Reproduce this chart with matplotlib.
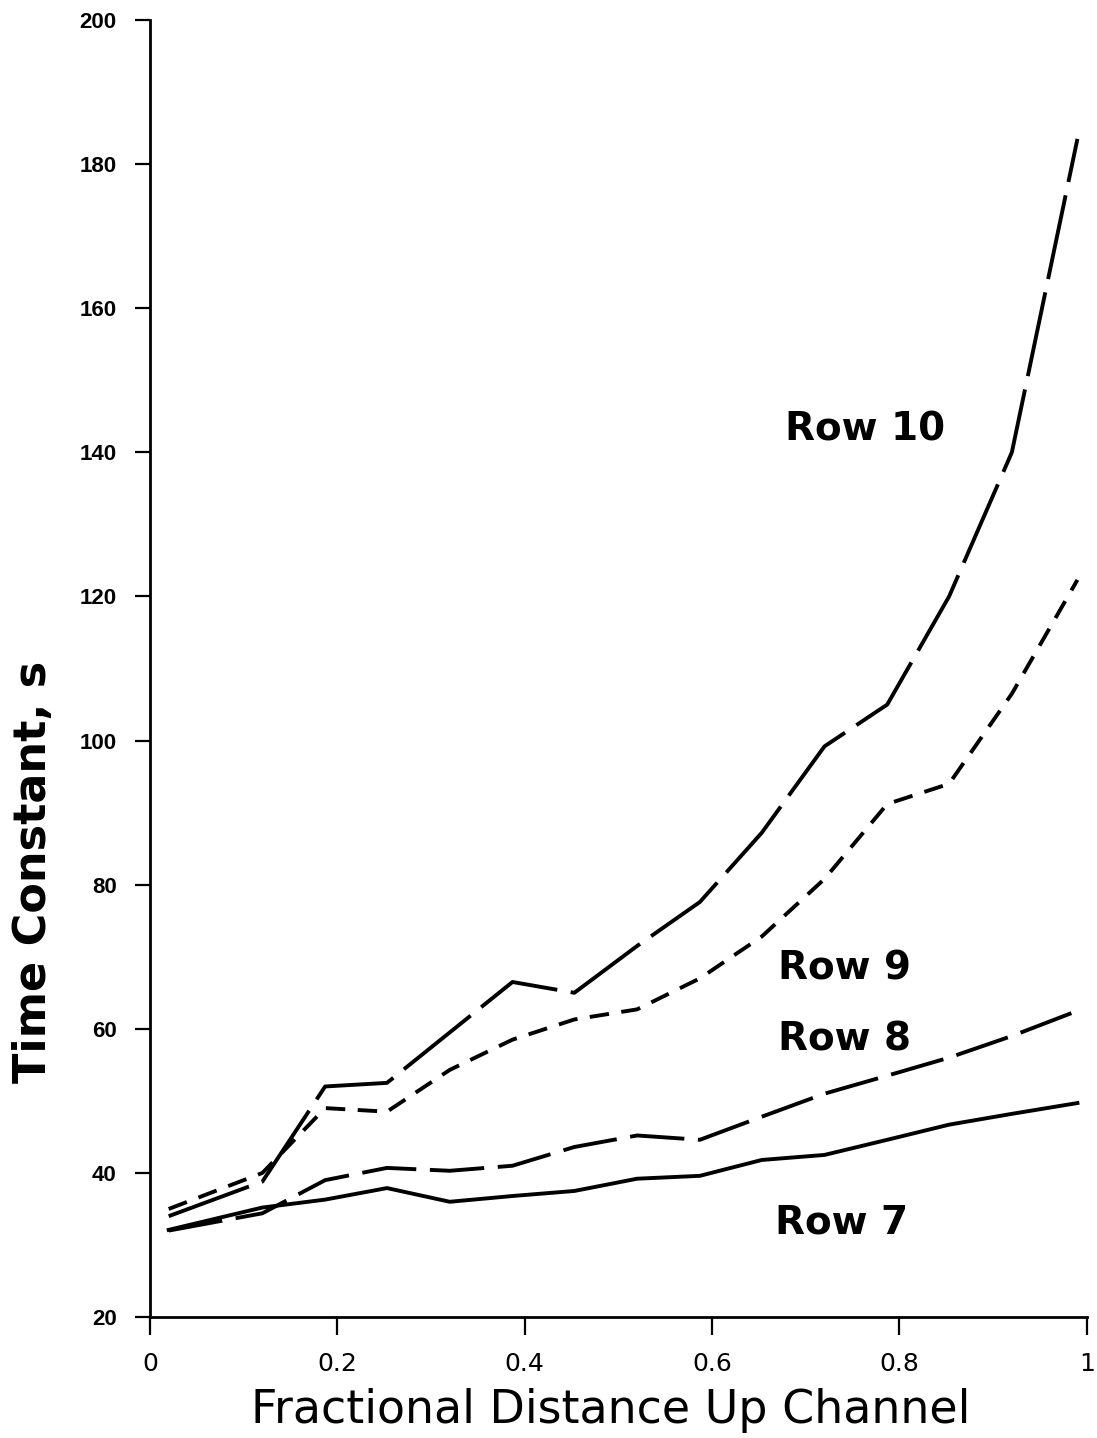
import matplotlib.pyplot as plt

# fractional distance up the channel (common x positions for all rows)
frac_dist = [0.02, 0.12, 0.187, 0.253, 0.32, 0.387, 0.453, 0.52,
             0.587, 0.653, 0.72, 0.787, 0.853, 0.92, 0.99]

# time constants, s
row7 = [32.1, 35.2, 36.3, 37.9, 36.0, 36.8, 37.5, 39.2,
        39.6, 41.8, 42.5, 44.6, 46.7, 48.2, 49.7]
row8 = [32.0, 34.4, 39.0, 40.7, 40.3, 41.0, 43.6, 45.2,
        44.6, 47.8, 51.0, 53.5, 56.0, 59.0, 62.5]
row9 = [35.0, 40.0, 49.0, 48.5, 54.3, 58.5, 61.3, 62.7,
        67.0, 72.8, 80.8, 91.2, 94.0, 106.5, 122.3]
row10 = [34.0, 38.8, 52.0, 52.5, 59.5, 66.5, 65.0, 71.5,
         77.6, 87.2, 99.2, 105.0, 120.0, 140.0, 183.5]

x_ticks = [0, 0.2, 0.4, 0.6, 0.8, 1.0]
x_tick_labels = ['0', '0.2', '0.4', '0.6', '0.8', '1']
y_ticks = [20, 40, 60, 80, 100, 120, 140, 160, 180, 200]


fig = plt.figure(figsize=(10.97, 14.38), dpi=100)
ax = fig.add_axes([0.1367, 0.0841, 0.854, 0.902])

lw = 2.8
ax.plot(frac_dist, row7, color='black', lw=lw)
ax.plot(frac_dist, row8, color='black', lw=lw, linestyle=(0, (14, 3.5)))
ax.plot(frac_dist, row9, color='black', lw=lw, linestyle=(0, (5, 3.2)))
ax.plot(frac_dist, row10, color='black', lw=lw, linestyle=(0, (22, 3.5)))

# row labels
row_font = dict(fontsize=28, fontweight='bold', family='DejaVu Sans', ha='left', va='baseline')
ax.text(0.678, 141.7, 'Row 10', **row_font)
ax.text(0.670, 66.9, 'Row 9', **row_font)
ax.text(0.670, 57.05, 'Row 8', **row_font)
ax.text(0.667, 31.66, 'Row 7', **row_font)

ax.set_xlim(0, 1)
ax.set_ylim(20, 200)
ax.spines['top'].set_visible(False)
ax.spines['right'].set_visible(False)
ax.spines['left'].set_linewidth(2)
ax.spines['bottom'].set_linewidth(2)

ax.set_xticks(x_ticks)
ax.set_xticklabels(x_tick_labels, fontsize=18, family='DejaVu Sans')
ax.set_yticks(y_ticks)
ax.set_yticklabels([str(v) for v in y_ticks], fontsize=16, fontweight='bold',
                   family='Liberation Sans')
ax.tick_params(axis='x', direction='out', length=13, width=1.6, pad=12)
ax.tick_params(axis='y', direction='out', length=11, width=1.6, pad=13)

ax.set_xlabel('Fractional Distance Up Channel', fontsize=33, family='DejaVu Sans')
ax.xaxis.set_label_coords(0.492, -0.0547)
ax.set_ylabel('Time Constant, s', fontsize=32, fontweight='bold', family='DejaVu Sans')
ax.yaxis.set_label_coords(-0.101, 0.343)

fig.savefig('out.png', dpi=100)
